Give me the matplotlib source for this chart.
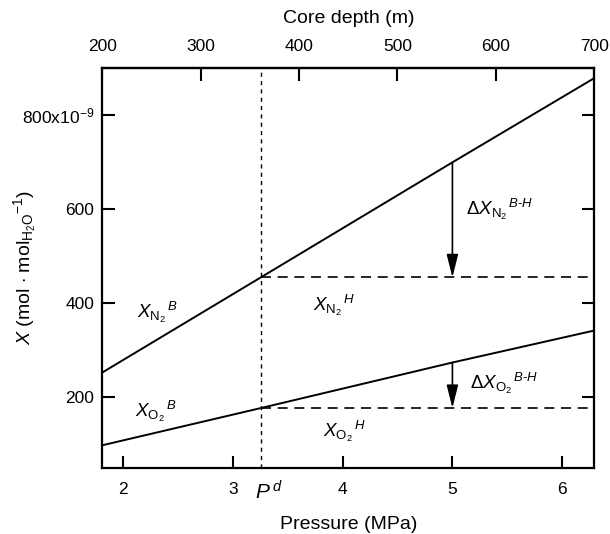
import numpy as np
import matplotlib
matplotlib.use("Agg")
import matplotlib.pyplot as plt
from matplotlib.ticker import FixedLocator, FixedFormatter

plt.rcParams['font.family'] = ['Liberation Sans', 'DejaVu Sans']
plt.rcParams['mathtext.fontset'] = 'custom'
plt.rcParams['mathtext.rm'] = 'Liberation Sans'
plt.rcParams['mathtext.it'] = 'Liberation Sans:italic'
plt.rcParams['mathtext.bf'] = 'Liberation Sans:bold'

# data (mole fractions in units of 1e-9)
pressure = [1.815, 3.255, 5.0, 6.29]
x_n2 = [253, 455, 700, 879]
x_o2 = [98, 177, 274, 342]
p_d = 3.255          # P^d
p_arrow = 5.0        # where the B-H arrows are drawn

x_ticks = [2, 3, 4, 5, 6]
y_ticks = [200, 400, 600, 800]
y_ticklabels = ['200', '400', '600', r'800x10$^{\mathregular{-9}}$']
depth_ticks = [200, 300, 400, 500, 600, 700]
p_lim = (1.815, 6.29)
depth_lim = (200, 700)


def p2d(p):
    return depth_lim[0] + (np.asarray(p) - p_lim[0]) * (depth_lim[1] - depth_lim[0]) / (p_lim[1] - p_lim[0])


def d2p(d):
    return p_lim[0] + (np.asarray(d) - depth_lim[0]) * (p_lim[1] - p_lim[0]) / (depth_lim[1] - depth_lim[0])


fig = plt.figure(figsize=(6.1, 5.34), dpi=100)
ax = fig.add_axes([0.168, 0.124, 0.806, 0.748])

ax.plot(pressure, x_n2, color='black', lw=1.4)
ax.plot(pressure, x_o2, color='black', lw=1.4)

# P^d marker and the hydrate-equilibrium levels
n2_h = np.interp(p_d, pressure, x_n2)
o2_h = np.interp(p_d, pressure, x_o2)
ax.axvline(p_d, color='black', lw=1.0, ls=(0, (3, 3)))
ax.hlines([n2_h, o2_h], p_d, p_lim[1], colors='black', lw=1.2, linestyles=(0, (6, 4)))

# B-H difference arrows
for series, level in [(x_n2, n2_h), (x_o2, o2_h)]:
    top = np.interp(p_arrow, pressure, series)
    ax.annotate('', xy=(p_arrow, level), xytext=(p_arrow, top),
                arrowprops=dict(arrowstyle='-|>,head_length=1.4,head_width=0.35',
                                color='black', lw=1.2, shrinkA=0, shrinkB=0))

fs = 13.5
ax.text(2.13, 381, r'$X_{\mathrm{N_2}}{}^{\,B}$', fontsize=fs, va='center')
ax.text(3.73, 396, r'$X_{\mathrm{N_2}}{}^{\,H}$', fontsize=fs, va='center')
ax.text(5.12, 600, r'$\mathit{\Delta}X_{\mathrm{N_2}}{}^{\,B\mathrm{\text{-}}H}$', fontsize=fs, va='center')
ax.text(2.11, 169, r'$X_{\mathrm{O_2}}{}^{\,B}$', fontsize=fs, va='center')
ax.text(3.82, 127, r'$X_{\mathrm{O_2}}{}^{\,H}$', fontsize=fs, va='center')
ax.text(5.16, 229, r'$\mathit{\Delta}X_{\mathrm{O_2}}{}^{\,B\mathrm{\text{-}}H}$', fontsize=fs, va='center')

ax.set_xlim(*p_lim)
ax.set_ylim(50, 900)
ax.xaxis.set_major_locator(FixedLocator(x_ticks))
ax.yaxis.set_major_locator(FixedLocator(y_ticks))
ax.yaxis.set_major_formatter(FixedFormatter(y_ticklabels))

for s in ax.spines.values():
    s.set_linewidth(1.6)
ax.tick_params(direction='in', length=9, width=1.5, labelsize=12.5, pad=10)
ax.tick_params(axis='y', right=True, pad=6)

# P^d label under the axis, in line with the tick labels
ax.text(p_d - 0.05, -0.061, r'$P^{\,d}$', transform=ax.get_xaxis_transform(),
        ha='left', va='center', fontsize=15)

ax.set_xlabel('Pressure (MPa)', fontsize=14, labelpad=14)
ax.set_ylabel(r'$X$ (mol $\cdot$ mol$_{\mathrm{H_2O}}$$^{\mathrm{-1}}$)', fontsize=14)
ax.yaxis.set_label_coords(-0.132, 0.5)

top = ax.secondary_xaxis('top', functions=(p2d, d2p))
top.xaxis.set_major_locator(FixedLocator(depth_ticks))
top.tick_params(direction='in', length=9, width=1.5, labelsize=12.5, pad=10)
top.spines['top'].set_linewidth(1.6)
top.set_xlabel('Core depth (m)', fontsize=14, labelpad=12)

fig.savefig('out.png', dpi=100)
